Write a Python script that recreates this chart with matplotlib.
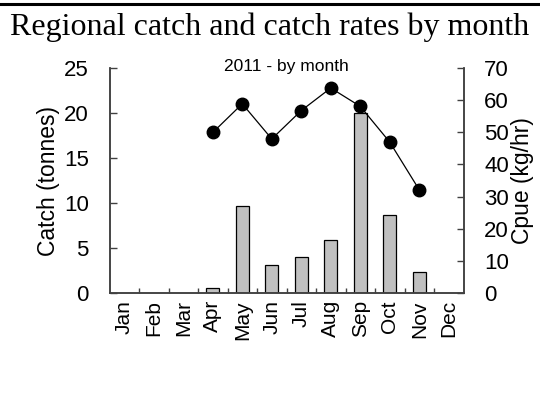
import matplotlib
matplotlib.use("Agg")
import matplotlib.pyplot as plt
from matplotlib.lines import Line2D
import numpy as np

months = ["Jan", "Feb", "Mar", "Apr", "May", "Jun", "Jul", "Aug", "Sep", "Oct", "Nov", "Dec"]
catch = [0, 0, 0, 0.55, 9.7, 3.1, 4.0, 5.9, 20.0, 8.7, 2.35, 0]
cpue_months = ["Apr", "May", "Jun", "Jul", "Aug", "Sep", "Oct", "Nov"]
cpue = [49.9, 58.8, 47.9, 56.7, 63.7, 58.0, 46.9, 32.1]
left_ticks = [0, 5, 10, 15, 20, 25]
right_ticks = [0, 10, 20, 30, 40, 50, 60, 70]

sans = ["Liberation Sans", "DejaVu Sans"]
serif = ["Liberation Serif", "DejaVu Serif"]
spine_col = "#404040"

fig = plt.figure(figsize=(5.4, 4.05), dpi=100)
ax = fig.add_axes([0.2028, 0.2758, 0.6556, 0.557])
ax2 = ax.twinx()

x = np.arange(len(months))
bars = [c if c > 0 else np.nan for c in catch]
ax.bar(x, bars, width=0.44, color="#c0c0c0", edgecolor="black", linewidth=0.9, zorder=2)

cx = [months.index(m) for m in cpue_months]
ax2.plot(cx, cpue, color="black", linewidth=0.9, marker="o", markersize=9, zorder=3)

ax.set_xlim(-0.5, 11.5)
ax.set_ylim(0, 25)
ax2.set_ylim(0, 70)

for a in (ax, ax2):
    a.spines["top"].set_visible(False)
    for s in ("left", "right", "bottom"):
        a.spines[s].set_color(spine_col)
        a.spines[s].set_linewidth(1.1)

ax.set_yticks(left_ticks)
ax.set_yticklabels([str(t) for t in left_ticks], fontfamily=sans, fontsize=16)
ax.tick_params(axis="y", direction="in", length=5, width=1, color=spine_col, pad=15)
ax2.set_yticks(right_ticks)
ax2.set_yticklabels([str(t) for t in right_ticks], fontfamily=sans, fontsize=16)
ax2.tick_params(axis="y", direction="in", length=5, width=1, color=spine_col, pad=15)

ax.set_xticks(x)
ax.set_xticklabels(months, rotation=90, fontfamily=sans, fontsize=15)
ax.set_xticks(np.arange(0.5, 11.5, 1), minor=True)
ax.tick_params(axis="x", which="major", length=0, pad=5)
ax.tick_params(axis="x", which="minor", direction="in", length=3.5, width=1, color=spine_col)

ax.set_ylabel("Catch (tonnes)", fontfamily=sans, fontsize=16.5, labelpad=3)
ax2.set_ylabel("Cpue (kg/hr)", fontfamily=sans, fontsize=16.5, labelpad=1)

ax.text(0.5, 1.005, "2011 - by month", transform=ax.transAxes, ha="center", va="center",
        fontfamily=sans, fontsize=12.5)

fig.text(0.5, 0.932, "Regional catch and catch rates by month", ha="center", va="center",
         fontfamily=serif, fontsize=23)
fig.add_artist(Line2D([0, 1], [1 - 4 / 405, 1 - 4 / 405], transform=fig.transFigure,
                      color="black", linewidth=2.2))

fig.savefig("out.png", dpi=100)
